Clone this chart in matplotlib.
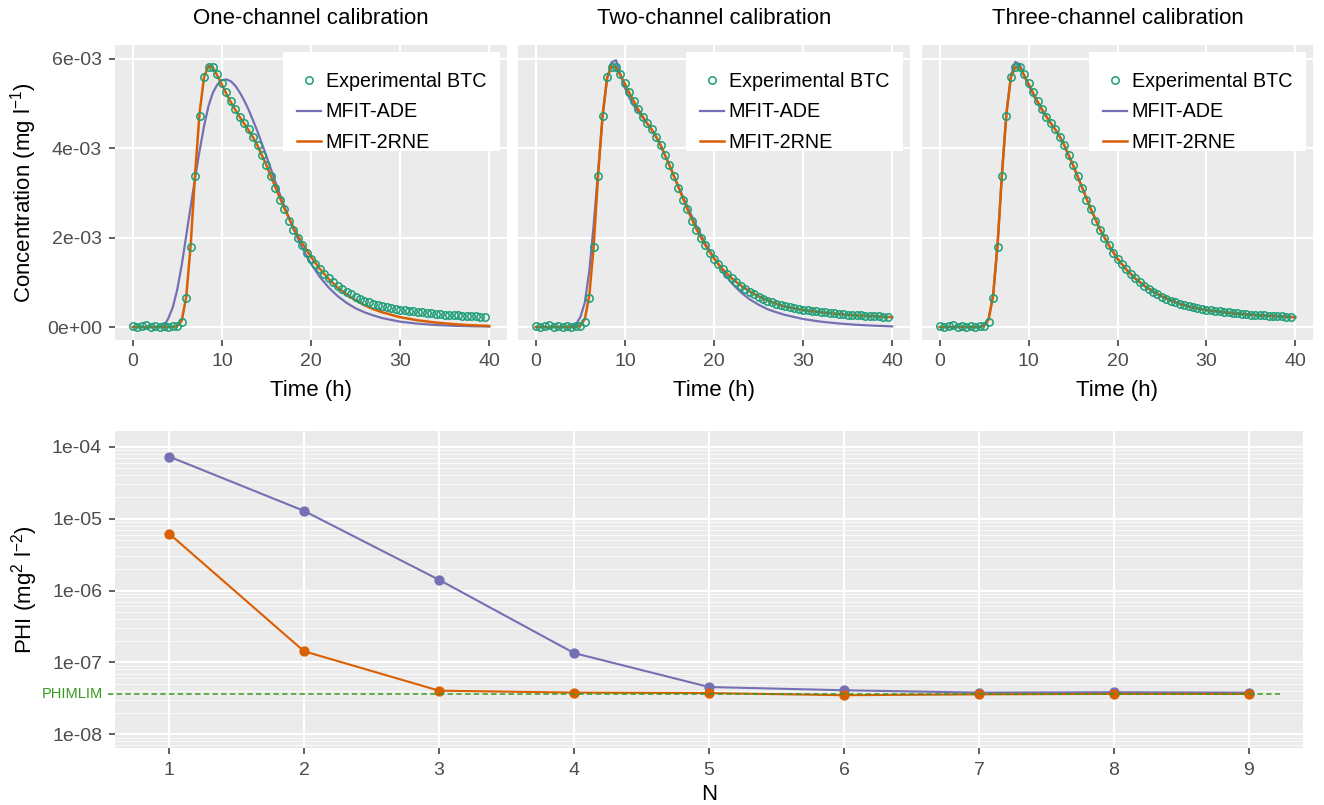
import numpy as np
import matplotlib
matplotlib.use('Agg')
import matplotlib.pyplot as plt
from matplotlib.patches import Rectangle
from matplotlib.ticker import LogLocator, NullFormatter, FixedLocator
from matplotlib.transforms import blended_transform_factory

plt.rcParams['font.family'] = ['Liberation Sans', 'DejaVu Sans']
plt.rcParams['mathtext.fontset'] = 'custom'
plt.rcParams['mathtext.rm'] = 'Liberation Sans'
plt.rcParams['mathtext.it'] = 'Liberation Sans:italic'
plt.rcParams['mathtext.bf'] = 'Liberation Sans:bold'

# ---------------- data ----------------
panel_titles = ["One-channel calibration", "Two-channel calibration", "Three-channel calibration"]
legend_labels = ["Experimental BTC", "MFIT-ADE", "MFIT-2RNE"]

# experimental breakthrough curve (time in h, concentration in 1e-3 mg/l)
time_obs = np.arange(0, 40, 0.5)
conc_obs_milli = [0.02, 0.01, 0.02, 0.04, 0.01, 0.02, 0.01, 0.02, 0.01, 0.02,
                  0.02, 0.12, 0.64, 1.78, 3.37, 4.73, 5.59, 5.81, 5.81, 5.66,
                  5.46, 5.25, 5.06, 4.87, 4.71, 4.56, 4.42, 4.26, 4.07, 3.85,
                  3.62, 3.38, 3.12, 2.85, 2.63, 2.37, 2.18, 2.00, 1.83, 1.65,
                  1.52, 1.40, 1.29, 1.19, 1.09, 1.00, 0.92, 0.85, 0.79, 0.73,
                  0.68, 0.63, 0.59, 0.55, 0.52, 0.49, 0.47, 0.44, 0.42, 0.40,
                  0.39, 0.37, 0.36, 0.35, 0.34, 0.33, 0.32, 0.31, 0.30, 0.29,
                  0.28, 0.27, 0.27, 0.26, 0.25, 0.25, 0.24, 0.24, 0.23, 0.23]

# model curves (time in h, concentration in 1e-3 mg/l)
time_model = [0, 1, 2, 3, 3.5, 4, 4.5, 5, 5.5, 6, 6.5, 7, 7.5, 8, 8.5, 9, 9.5,
              10, 10.5, 11, 11.5, 12, 12.5, 13, 13.5, 14, 15, 16, 17, 18, 19,
              20, 21, 22, 23, 24, 25, 26, 27, 28, 30, 32, 34, 36, 38, 40]

ade_one_milli = [0, 0, 0, 0, 0.02, 0.2, 0.45, 0.85, 1.4, 2.05, 2.7, 3.35, 3.95,
                 4.5, 4.95, 5.25, 5.43, 5.52, 5.54, 5.5, 5.4, 5.25, 5.07, 4.86,
                 4.62, 4.37, 3.82, 3.25, 2.7, 2.2, 1.78, 1.42, 1.12, 0.88, 0.69,
                 0.54, 0.42, 0.33, 0.26, 0.2, 0.12, 0.075, 0.045, 0.028, 0.018, 0.011]
rne_one_milli = [0, 0, 0, 0, 0, 0, 0, 0.02, 0.15, 0.68, 1.85, 3.45, 4.8, 5.6,
                 5.84, 5.8, 5.62, 5.42, 5.22, 5.03, 4.86, 4.7, 4.55, 4.4, 4.24,
                 4.06, 3.62, 3.13, 2.66, 2.24, 1.88, 1.57, 1.3, 1.07, 0.88, 0.73,
                 0.6, 0.49, 0.4, 0.33, 0.22, 0.15, 0.1, 0.065, 0.04, 0.025]

ade_two_milli = [0, 0, 0, 0, 0, 0.01, 0.06, 0.22, 0.55, 1.25, 2.3, 3.5, 4.7,
                 5.55, 5.92, 5.97, 5.65, 5.35, 5.13, 4.95, 4.81, 4.68, 4.55,
                 4.42, 4.25, 4.07, 3.62, 3.15, 2.7, 2.27, 1.88, 1.55, 1.24, 0.98,
                 0.78, 0.62, 0.5, 0.4, 0.33, 0.27, 0.18, 0.12, 0.08, 0.05, 0.03, 0.015]
rne_two_milli = [0, 0, 0, 0, 0, 0, 0, 0.03, 0.18, 0.7, 1.82, 3.42, 4.76, 5.58,
                 5.83, 5.8, 5.63, 5.44, 5.24, 5.05, 4.87, 4.71, 4.56, 4.42, 4.26,
                 4.07, 3.62, 3.13, 2.64, 2.2, 1.84, 1.53, 1.29, 1.09, 0.93, 0.8,
                 0.69, 0.6, 0.52, 0.46, 0.38, 0.33, 0.29, 0.26, 0.24, 0.22]

ade_three_milli = [0, 0, 0, 0, 0, 0, 0, 0.03, 0.2, 0.72, 1.85, 3.45, 4.8, 5.62,
                   5.93, 5.88, 5.62, 5.4, 5.2, 5.02, 4.85, 4.7, 4.56, 4.42, 4.26,
                   4.07, 3.62, 3.13, 2.64, 2.2, 1.83, 1.52, 1.28, 1.08, 0.92, 0.79,
                   0.68, 0.59, 0.52, 0.46, 0.38, 0.33, 0.29, 0.26, 0.24, 0.22]
rne_three_milli = [0, 0, 0, 0, 0, 0, 0, 0.03, 0.17, 0.69, 1.82, 3.42, 4.76, 5.58,
                   5.82, 5.81, 5.63, 5.44, 5.24, 5.05, 4.87, 4.71, 4.56, 4.42, 4.26,
                   4.07, 3.62, 3.13, 2.64, 2.2, 1.84, 1.53, 1.29, 1.09, 0.93, 0.8,
                   0.69, 0.6, 0.52, 0.46, 0.38, 0.33, 0.29, 0.26, 0.24, 0.22]

ade_curves = [ade_one_milli, ade_two_milli, ade_three_milli]
rne_curves = [rne_one_milli, rne_two_milli, rne_three_milli]

# objective function per iteration
iterations = [1, 2, 3, 4, 5, 6, 7, 8, 9]
phi_ade = [7.3e-5, 1.28e-5, 1.41e-6, 1.35e-7, 4.55e-8, 4.1e-8, 3.8e-8, 3.85e-8, 3.8e-8]
phi_rne = [6.2e-6, 1.43e-7, 4.05e-8, 3.8e-8, 3.75e-8, 3.5e-8, 3.6e-8, 3.65e-8, 3.65e-8]
phimlim = 3.6e-8

conc_ticks = [0, 2e-3, 4e-3, 6e-3]
conc_tick_labels = ["0e+00", "2e-03", "4e-03", "6e-03"]
time_ticks = [0, 10, 20, 30, 40]
phi_ticks = [1e-8, 1e-7, 1e-6, 1e-5, 1e-4]
phi_tick_labels = ["1e-08", "1e-07", "1e-06", "1e-05", "1e-04"]

# ---------------- style ----------------
C_OBS = "#1B9E77"
C_ADE = "#7570B3"
C_RNE = "#D95F02"
C_LIM = "#379A1E"
BG = "#EBEBEB"
TICKCOL = "#4D4D4D"

W, H = 1324, 805
fig = plt.figure(figsize=(W / 100, H / 100), dpi=100)


def px_axes(left, top, right, bottom):
    return fig.add_axes([left / W, 1 - bottom / H, (right - left) / W, (bottom - top) / H])


def style_axes(ax):
    ax.set_facecolor(BG)
    for s in ax.spines.values():
        s.set_visible(False)
    ax.grid(True, which='major', color='white', linewidth=1.5)
    ax.set_axisbelow(True)
    ax.tick_params(which='major', length=4.3, width=1.1, color='#333333',
                   labelsize=14, labelcolor=TICKCOL, pad=5)


panels = [(115, 45, 507, 340), (518, 45, 910, 340), (922, 45, 1313, 340)]
for i, (l, t, r, b) in enumerate(panels):
    ax = px_axes(l, t, r, b)
    style_axes(ax)
    tm = np.array(time_model)
    ax.plot(tm, np.array(ade_curves[i]) * 1e-3, color=C_ADE, lw=1.6, zorder=3,
            label=legend_labels[1])
    ax.plot(tm, np.array(rne_curves[i]) * 1e-3, color=C_RNE, lw=1.8, zorder=4,
            label=legend_labels[2])
    ax.plot(time_obs, np.array(conc_obs_milli) * 1e-3, linestyle='none', marker='o',
            markersize=5.3, markerfacecolor='none', markeredgecolor=C_OBS,
            markeredgewidth=1.1, zorder=5, label=legend_labels[0])
    ax.set_xlim(-2, 42)
    ax.set_ylim(-0.29e-3, 6.31e-3)
    ax.set_xticks(time_ticks)
    ax.set_yticks(conc_ticks)
    if i == 0:
        ax.set_yticklabels(conc_tick_labels)
    else:
        ax.tick_params(axis='y', left=False, labelleft=False)

    # legend background box
    pw, ph = r - l, b - t
    ax.add_patch(Rectangle((1 - 224 / pw, 1 - 106 / ph), 217 / pw, 99 / ph,
                           transform=ax.transAxes, facecolor='white',
                           edgecolor='none', zorder=6))
    handles, labels = ax.get_legend_handles_labels()
    order = [2, 0, 1]
    leg = ax.legend([handles[k] for k in order], [labels[k] for k in order],
                    loc='upper left', bbox_to_anchor=(1 - 210 / pw, 1 - 27 / ph),
                    bbox_transform=ax.transAxes, borderaxespad=0, borderpad=0,
                    fontsize=14.2, frameon=False,
                    handlelength=1.2, handletextpad=0.25, labelspacing=0.58)
    leg.set_zorder(7)
    cx = (l + r) / 2 / W
    fig.text(cx, 1 - 18 / H, panel_titles[i], ha='center', va='center', fontsize=16)
    fig.text(cx, 1 - 390 / H, "Time (h)", ha='center', va='center', fontsize=16)

fig.text(24 / W, 1 - 193 / H, "Concentration (mg l$^{-1}$)", rotation=90,
         ha='center', va='center', fontsize=16)

# ---------------- bottom panel ----------------
axb = px_axes(115, 431, 1303, 748)
style_axes(axb)
axb.set_yscale('log')
axb.set_xlim(0.6, 9.4)
axb.set_ylim(10 ** -8.19, 10 ** -3.782)
axb.yaxis.set_major_locator(FixedLocator(phi_ticks))
axb.set_yticklabels(phi_tick_labels)
axb.yaxis.set_minor_locator(LogLocator(base=10, subs=np.arange(2, 10)))
axb.yaxis.set_minor_formatter(NullFormatter())
axb.tick_params(axis='y', which='minor', length=0)
axb.grid(True, which='minor', axis='y', color='white', linewidth=0.6, alpha=0.85)
axb.set_xticks(iterations)
axb.tick_params(axis='x', pad=6)

axb.plot(iterations, phi_ade, color=C_ADE, lw=1.5, marker='o', markersize=6.4, zorder=3)
axb.plot(iterations, phi_rne, color=C_RNE, lw=1.5, marker='o', markersize=6.4, zorder=4)
axb.plot([0.55, 9.23], [phimlim, phimlim], color=C_LIM, lw=1.1,
         linestyle=(0, (3.5, 2.2)), zorder=5, clip_on=False)
trans = blended_transform_factory(fig.transFigure, axb.transData)
fig.text(103 / W, phimlim, "PHIMLIM", transform=trans, ha='right', va='center',
         fontsize=10.5, color=C_LIM)

fig.text(25 / W, 1 - 590 / H, "PHI (mg$^{2}$ l$^{-2}$)", rotation=90,
         ha='center', va='center', fontsize=16)
fig.text(709 / W, 1 - 794 / H, "N", ha='center', va='center', fontsize=16)

fig.savefig("out.png", dpi=100)
